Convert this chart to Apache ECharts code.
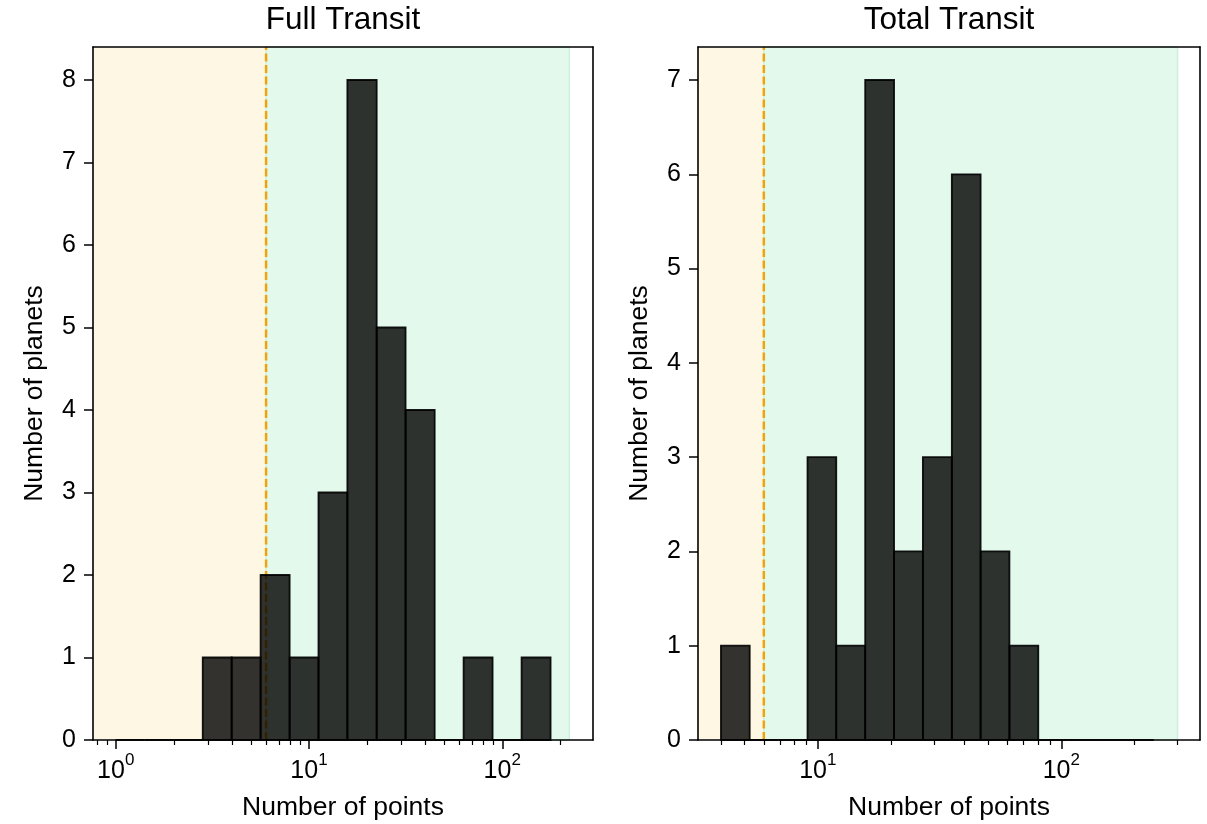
<!DOCTYPE html>
<html><head><meta charset="utf-8">
<script src="https://cdn.jsdelivr.net/npm/echarts@6/dist/echarts.min.js"></script>
<style>html,body{margin:0;padding:0;background:#fff}#c{width:1207px;height:824px}</style>
</head><body><div id="c"></div>
<script>
// ---- data ----
const titles = ['Full Transit', 'Total Transit'];
const xLabel = 'Number of points';
const yLabel = 'Number of planets';

const fullEdges  = [1, 1.41, 2.0, 2.82, 3.98, 5.62, 7.94, 11.2, 15.8, 22.4, 31.6, 44.7, 63.1, 89.1, 125.9, 177.8];
const fullCounts = [0, 0, 0, 1, 1, 2, 1, 3, 8, 5, 4, 0, 1, 0, 1];
const totalEdges  = [4.0, 5.25, 6.90, 9.07, 11.9, 15.65, 20.56, 27.0, 35.5, 46.6, 61.2, 80.4, 105.7, 138.8, 182.4, 239.6];
const totalCounts = [1, 0, 0, 3, 1, 7, 2, 3, 6, 2, 1, 0, 0, 0, 0];

const threshold = 6;
const fullSpanEnd = 222.3;
const totalSpanEnd = 300;
const fullXRange = [0.763, 294.8];
const totalXRange = [3.22, 371];
const fullYTicks = [0, 1, 2, 3, 4, 5, 6, 7, 8];
const totalYTicks = [0, 1, 2, 3, 4, 5, 6, 7];
const fullYMax = 8.4;
const totalYMax = 7.35;
const majorXTicks = [1, 10, 100];
const fullMinorXTicks = [0.8, 0.9, 2, 3, 4, 5, 6, 7, 8, 9, 20, 30, 40, 50, 60, 70, 80, 90, 200];
const totalMinorXTicks = [4, 5, 6, 7, 8, 9, 20, 30, 40, 50, 60, 70, 80, 90, 200, 300];

// ---- styles ----
const FONT = "'Liberation Sans', Arial, Helvetica, sans-serif";
const CREAM = '#fef7e4';
const MINT = '#e2f9eb';
const ORANGE = '#f0a30c';

function toBins(edges, counts) {
  return counts.map((c, i) => [edges[i], edges[i + 1], c]);
}

const panels = [
  { edges: fullEdges, counts: fullCounts, xr: fullXRange, spanEnd: fullSpanEnd, yTicks: fullYTicks, yMax: fullYMax, minor: fullMinorXTicks,
    grid: { left: 93, top: 47, width: 500, height: 693 } },
  { edges: totalEdges, counts: totalCounts, xr: totalXRange, spanEnd: totalSpanEnd, yTicks: totalYTicks, yMax: totalYMax, minor: totalMinorXTicks,
    grid: { left: 698, top: 47, width: 502, height: 693 } }
];

const option = { animation: false, grid: [], xAxis: [], yAxis: [], series: [] };
const lineStyle = { color: '#000', width: 1.6 };

panels.forEach((p, k) => {
  option.grid.push(Object.assign({ containLabel: false, outerBoundsMode: 'none' }, p.grid));
  const xi = option.xAxis.length, yi = option.yAxis.length;
  // major bottom axis
  option.xAxis.push({
    type: 'log', logBase: 10, gridIndex: k, min: p.xr[0], max: p.xr[1], position: 'bottom', z: 10,
    axisLine: { show: true, onZero: false, lineStyle },
    axisTick: { show: true, inside: false, length: 9, lineStyle: { color: '#000', width: 1.5 }, customValues: majorXTicks },
    axisLabel: {
      show: true, margin: 12, customValues: majorXTicks,
      formatter: v => '{b|10}{s|' + Math.round(Math.log10(v)) + '}',
      rich: {
        b: { fontSize: 25, fontFamily: FONT, color: '#000', lineHeight: 32, verticalAlign: 'bottom' },
        s: { fontSize: 17, fontFamily: FONT, color: '#000', verticalAlign: 'top', lineHeight: 17 }
      }
    },
    splitLine: { show: false }, minorTick: { show: false },
    name: xLabel, nameLocation: 'middle', nameGap: 54,
    nameTextStyle: { fontSize: 26.5, fontFamily: FONT, color: '#000' }
  });
  // minor bottom axis
  option.xAxis.push({
    type: 'log', logBase: 10, gridIndex: k, min: p.xr[0], max: p.xr[1], position: 'bottom', z: 10,
    axisLine: { show: false },
    axisTick: { show: true, inside: false, length: 5, lineStyle: { color: '#000', width: 1.2 }, customValues: p.minor },
    axisLabel: { show: false }, splitLine: { show: false }
  });
  // top axis (frame + title)
  option.xAxis.push({
    type: 'log', logBase: 10, gridIndex: k, min: p.xr[0], max: p.xr[1], position: 'top', z: 10,
    axisLine: { show: true, onZero: false, lineStyle },
    axisTick: { show: false }, axisLabel: { show: false }, splitLine: { show: false },
    name: titles[k], nameLocation: 'middle', nameGap: 11,
    nameTextStyle: { fontSize: 31.5, fontFamily: FONT, color: '#000' }
  });
  option.yAxis.push({
    type: 'value', gridIndex: k, min: 0, max: p.yMax, position: 'left', z: 10,
    axisLine: { show: true, onZero: false, lineStyle },
    axisTick: { show: true, inside: false, length: 9, lineStyle: { color: '#000', width: 1.5 }, customValues: p.yTicks },
    axisLabel: { show: true, margin: 17, fontSize: 25, fontFamily: FONT, color: '#000', customValues: p.yTicks },
    splitLine: { show: false },
    name: yLabel, nameLocation: 'middle', nameGap: 45,
    nameTextStyle: { fontSize: 26.5, fontFamily: FONT, color: '#000' }
  });
  option.yAxis.push({
    type: 'value', gridIndex: k, min: 0, max: p.yMax, position: 'right', z: 10,
    axisLine: { show: true, onZero: false, lineStyle },
    axisTick: { show: false }, axisLabel: { show: false }, splitLine: { show: false }
  });

  const yMax = p.yMax;
  // background spans
  const spanSeries = (data, fill, stroke) => ({
    type: 'custom', xAxisIndex: xi, yAxisIndex: yi, z: 1, silent: true,
    encode: { x: [0, 1] },
    data: data,
    renderItem: (params, api) => {
      const a = api.coord([api.value(0), 0]);
      const b = api.coord([api.value(1), yMax]);
      return { type: 'rect', shape: { x: a[0], y: b[1], width: b[0] - a[0], height: a[1] - b[1] },
        style: { fill: fill, stroke: stroke, lineWidth: stroke ? 1.5 : 0 } };
    }
  });
  option.series.push(spanSeries([[p.xr[0], threshold]], CREAM, null));
  option.series.push(spanSeries([[threshold, p.spanEnd]], MINT, '#cdf1dc'));
  // dashed threshold line
  option.series.push({
    type: 'custom', xAxisIndex: xi, yAxisIndex: yi, z: 2, silent: true,
    encode: { x: 0 },
    data: [[threshold]],
    renderItem: (params, api) => {
      const a = api.coord([api.value(0), 0]);
      const b = api.coord([api.value(0), yMax]);
      return { type: 'line', shape: { x1: a[0], y1: a[1], x2: b[0], y2: b[1] },
        style: { stroke: ORANGE, lineWidth: 2.5, lineDash: [8, 3.5] } };
    }
  });
  // histogram bars
  option.series.push({
    type: 'custom', xAxisIndex: xi, yAxisIndex: yi, z: 3,
    encode: { x: [0, 1], y: 2 },
    data: toBins(p.edges, p.counts),
    renderItem: (params, api) => {
      const a = api.coord([api.value(0), 0]);
      const b = api.coord([api.value(1), api.value(2)]);
      return { type: 'rect', shape: { x: a[0], y: b[1], width: b[0] - a[0], height: a[1] - b[1] },
        style: { fill: 'rgba(0,0,0,0.8)', stroke: 'rgba(0,0,0,0.9)', lineWidth: 1.8 } };
    }
  });
});

const chart = echarts.init(document.getElementById('c'), null, { renderer: 'canvas' });
chart.setOption(option);
</script>
</body></html>
